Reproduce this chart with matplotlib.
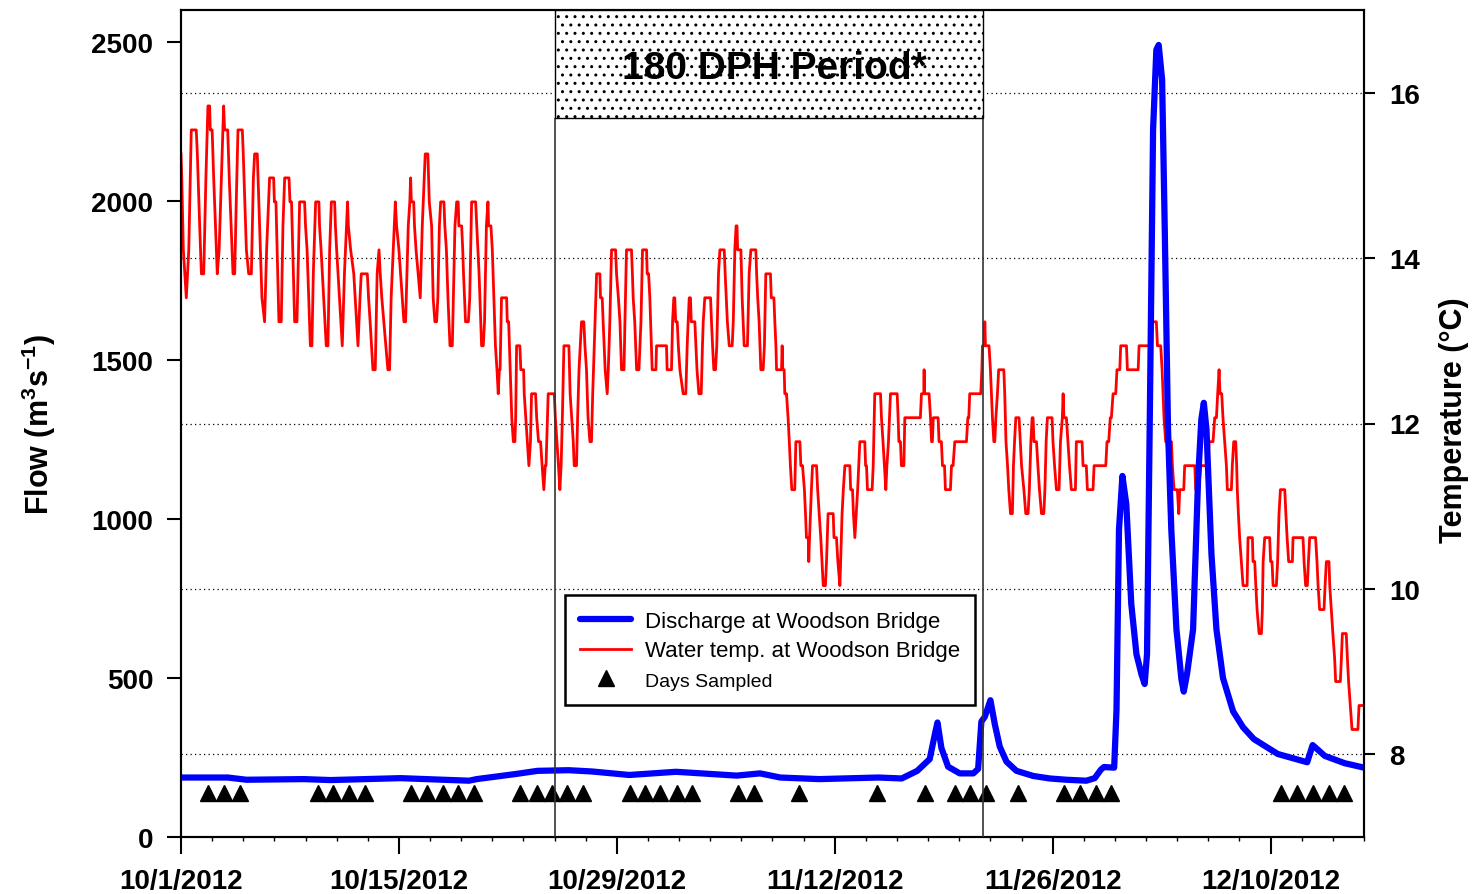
import numpy as np
import matplotlib.pyplot as plt
from matplotlib.patches import Rectangle
from matplotlib.lines import Line2D

plt.rcParams['font.family'] = 'Liberation Sans'
plt.rcParams['font.weight'] = 'bold'
plt.rcParams['axes.labelweight'] = 'bold'
plt.rcParams['mathtext.fontset'] = 'custom'
plt.rcParams['mathtext.rm'] = 'Liberation Sans:bold'
plt.rcParams['mathtext.it'] = 'Liberation Sans:bold'
plt.rcParams['mathtext.bf'] = 'Liberation Sans:bold'
plt.rcParams['hatch.linewidth'] = 1.0

# days since 10/1/2012, discharge (m3/s)
flow_pts = [
    (0.0, 187), (3.0, 187), (4.2, 180), (7.9, 182), (9.6, 179), (14.1, 185),
    (18.5, 177), (19.0, 182), (21.5, 198), (22.9, 208), (24.9, 210), (26.4, 206),
    (28.8, 195), (31.8, 205), (35.7, 193), (37.2, 200), (38.5, 187), (41.0, 182),
    (44.8, 187), (46.3, 184), (47.3, 208), (48.1, 245), (48.43, 323), (48.6, 360),
    (48.85, 280), (49.28, 221), (50.03, 200), (50.9, 200), (51.21, 214), (51.42, 363),
    (51.64, 378), (52.0, 430), (52.28, 355), (52.6, 284), (53.03, 237), (53.67, 208),
    (54.74, 192), (55.81, 184), (56.88, 180), (58.16, 177), (58.7, 185), (59.1, 212),
    (59.3, 220), (59.95, 218), (60.1, 400), (60.26, 967), (60.48, 1135), (60.73, 1046),
    (61.05, 732), (61.38, 575), (61.70, 512), (61.91, 481), (62.06, 575), (62.23, 1281),
    (62.45, 2224), (62.66, 2475), (62.81, 2490), (63.03, 2381), (63.20, 1910), (63.41, 1281),
    (63.62, 967), (63.95, 653), (64.27, 496), (64.42, 457), (64.63, 512), (65.02, 653),
    (65.34, 1124), (65.55, 1313), (65.71, 1365), (65.88, 1281), (66.20, 889), (66.52, 653),
    (66.94, 500), (67.59, 395), (68.23, 345), (68.92, 308), (70.46, 261), (72.35, 235),
    (72.70, 289), (73.48, 255), (74.76, 232), (75.92, 219), (76.0, 218),
]

# days since 10/1/2012, water temperature (deg C)
temp_pts = [
    (0.00, 15.26), (0.05, 14.97), (0.15, 14.10), (0.34, 13.52), (0.50, 14.10), (0.60, 14.97),
    (0.66, 15.55), (0.98, 15.55), (1.05, 15.26), (1.20, 14.39), (1.31, 13.81), (1.46, 13.81),
    (1.60, 14.97), (1.73, 15.84), (1.84, 15.84), (1.88, 15.55), (2.00, 15.55), (2.10, 14.97),
    (2.33, 13.81), (2.45, 14.10), (2.74, 15.84), (2.80, 15.55), (3.00, 15.55), (3.10, 14.97),
    (3.34, 13.81), (3.45, 13.81), (3.55, 14.68), (3.66, 15.55), (3.94, 15.55), (4.00, 15.26),
    (4.20, 14.10), (4.35, 13.81), (4.52, 13.81), (4.65, 14.97), (4.73, 15.26), (4.90, 15.26),
    (4.95, 14.97), (5.20, 13.52), (5.37, 13.23), (5.50, 14.10), (5.69, 14.97), (5.95, 14.97),
    (6.00, 14.68), (6.10, 14.68), (6.29, 13.23), (6.44, 13.23), (6.55, 14.39), (6.66, 14.97),
    (6.94, 14.97), (7.00, 14.68), (7.10, 14.68), (7.30, 13.23), (7.45, 13.23), (7.55, 14.10),
    (7.62, 14.68), (7.94, 14.68), (8.00, 14.39), (8.10, 14.10), (8.31, 12.94), (8.41, 12.94),
    (8.50, 13.81), (8.65, 14.68), (8.86, 14.68), (8.90, 14.39), (9.00, 14.10), (9.33, 12.94),
    (9.44, 12.94), (9.55, 14.10), (9.66, 14.68), (9.87, 14.68), (9.92, 14.39), (10.00, 14.10),
    (10.36, 12.94), (10.50, 13.81), (10.70, 14.68), (10.75, 14.39), (10.90, 14.10), (11.10, 13.81),
    (11.37, 12.94), (11.50, 13.52), (11.58, 13.81), (11.97, 13.81), (12.05, 13.52), (12.15, 13.23),
    (12.33, 12.65), (12.48, 12.65), (12.60, 13.81), (12.72, 14.10), (12.80, 13.81), (12.90, 13.52),
    (13.29, 12.65), (13.40, 12.65), (13.50, 13.52), (13.77, 14.68), (13.85, 14.39), (14.00, 14.10),
    (14.32, 13.23), (14.43, 13.23), (14.60, 14.39), (14.70, 14.68), (14.75, 14.97), (14.80, 14.68),
    (14.95, 14.68), (15.00, 14.39), (15.10, 14.10), (15.37, 13.52), (15.50, 14.39), (15.69, 15.26),
    (15.86, 15.26), (15.95, 14.68), (16.10, 14.39), (16.20, 13.52), (16.31, 13.23), (16.42, 13.23),
    (16.50, 13.52), (16.60, 14.39), (16.68, 14.68), (16.89, 14.68), (16.95, 14.39), (17.05, 14.10),
    (17.15, 13.52), (17.28, 12.94), (17.43, 12.94), (17.50, 13.52), (17.60, 14.39), (17.71, 14.68),
    (17.81, 14.68), (17.85, 14.39), (18.03, 14.39), (18.10, 14.10), (18.15, 13.81), (18.28, 13.23),
    (18.46, 13.23), (18.55, 13.52), (18.67, 14.68), (18.93, 14.68), (19.00, 14.39), (19.15, 13.81),
    (19.31, 12.94), (19.42, 12.94), (19.50, 13.23), (19.62, 14.39), (19.72, 14.68), (19.76, 14.39),
    (19.91, 14.39), (20.00, 14.10), (20.10, 13.52), (20.20, 12.94), (20.30, 12.65), (20.38, 12.36),
    (20.45, 12.65), (20.50, 12.65), (20.59, 13.52), (20.92, 13.52), (20.96, 13.23), (21.05, 13.23),
    (21.10, 12.94), (21.15, 12.65), (21.25, 12.07), (21.35, 11.78), (21.45, 11.78), (21.50, 12.07),
    (21.56, 12.94), (21.77, 12.94), (21.83, 12.65), (22.01, 12.65), (22.05, 12.36), (22.15, 12.07),
    (22.25, 11.78), (22.35, 11.49), (22.45, 11.78), (22.52, 12.36), (22.78, 12.36), (22.85, 12.07),
    (22.97, 11.78), (23.10, 11.78), (23.20, 11.49), (23.31, 11.20), (23.40, 11.49), (23.45, 11.49),
    (23.59, 12.36), (23.98, 12.36), (24.05, 12.07), (24.15, 11.78), (24.25, 11.49), (24.34, 11.20),
    (24.42, 11.49), (24.50, 12.07), (24.60, 12.94), (24.92, 12.94), (25.00, 12.36), (25.10, 12.07),
    (25.20, 11.78), (25.26, 11.49), (25.41, 11.49), (25.48, 12.07), (25.57, 12.65), (25.65, 12.94),
    (25.73, 13.23), (25.88, 13.23), (25.95, 12.94), (26.05, 12.65), (26.15, 12.07), (26.27, 11.78),
    (26.37, 11.78), (26.45, 12.36), (26.55, 12.94), (26.70, 13.81), (26.91, 13.81), (26.95, 13.52),
    (27.06, 13.52), (27.12, 13.23), (27.25, 12.65), (27.38, 12.36), (27.45, 12.65), (27.55, 13.23),
    (27.66, 14.10), (27.92, 14.10), (27.98, 13.81), (28.10, 13.52), (28.20, 13.23), (28.30, 12.65),
    (28.46, 12.65), (28.52, 13.23), (28.62, 14.10), (28.94, 14.10), (29.00, 13.81), (29.05, 13.52),
    (29.15, 13.23), (29.27, 12.65), (29.42, 12.65), (29.55, 13.23), (29.65, 14.10), (29.91, 14.10),
    (29.95, 13.81), (30.04, 13.81), (30.12, 13.52), (30.27, 12.65), (30.51, 12.65), (30.55, 12.94),
    (31.19, 12.94), (31.23, 12.65), (31.51, 12.65), (31.58, 13.23), (31.66, 13.52), (31.72, 13.52),
    (31.78, 13.23), (31.88, 13.23), (31.95, 12.94), (32.05, 12.65), (32.26, 12.36), (32.43, 12.36),
    (32.52, 12.94), (32.58, 13.23), (32.65, 13.52), (32.73, 13.52), (32.78, 13.23), (33.01, 13.23),
    (33.08, 12.94), (33.15, 12.65), (33.27, 12.36), (33.42, 12.36), (33.50, 12.94), (33.55, 13.23),
    (33.65, 13.52), (34.02, 13.52), (34.08, 13.23), (34.15, 12.94), (34.23, 12.65), (34.34, 12.65),
    (34.42, 12.94), (34.53, 13.81), (34.62, 14.10), (34.90, 14.10), (34.96, 13.81), (35.10, 13.23),
    (35.22, 12.94), (35.41, 12.94), (35.48, 13.23), (35.58, 14.10), (35.66, 14.39), (35.72, 14.39),
    (35.76, 14.10), (35.97, 14.10), (36.05, 13.52), (36.18, 12.94), (36.39, 12.94), (36.50, 13.81),
    (36.61, 14.10), (36.93, 14.10), (36.98, 13.81), (37.05, 13.52), (37.14, 13.23), (37.25, 12.65),
    (37.40, 12.65), (37.48, 12.94), (37.57, 13.81), (37.87, 13.81), (37.92, 13.52), (38.09, 13.52),
    (38.15, 13.23), (38.22, 12.94), (38.26, 12.65), (38.58, 12.65), (38.62, 12.94), (38.66, 12.65),
    (38.75, 12.65), (38.79, 12.36), (38.90, 12.36), (39.00, 12.07), (39.08, 11.78), (39.15, 11.49),
    (39.24, 11.20), (39.43, 11.20), (39.50, 11.78), (39.76, 11.78), (39.82, 11.49), (39.93, 11.49),
    (40.05, 11.20), (40.12, 10.91), (40.18, 10.62), (40.30, 10.62), (40.33, 10.33), (40.38, 10.62),
    (40.50, 11.20), (40.57, 11.49), (40.83, 11.49), (40.90, 11.20), (41.00, 10.91), (41.10, 10.62),
    (41.18, 10.33), (41.26, 10.04), (41.40, 10.04), (41.47, 10.33), (41.57, 10.91), (41.90, 10.91),
    (41.95, 10.62), (42.11, 10.62), (42.20, 10.33), (42.33, 10.04), (42.42, 10.62), (42.47, 10.91),
    (42.55, 11.20), (42.65, 11.49), (42.97, 11.49), (43.02, 11.20), (43.14, 11.20), (43.20, 10.91),
    (43.29, 10.62), (43.38, 10.91), (43.47, 11.20), (43.61, 11.78), (43.93, 11.78), (43.98, 11.49),
    (44.04, 11.49), (44.10, 11.20), (44.40, 11.20), (44.47, 11.49), (44.57, 12.36), (44.94, 12.36),
    (45.00, 12.07), (45.10, 11.78), (45.28, 11.20), (45.35, 11.49), (45.45, 11.78), (45.58, 12.36),
    (46.01, 12.36), (46.07, 12.07), (46.12, 11.78), (46.22, 11.78), (46.28, 11.49), (46.44, 11.49),
    (46.50, 12.07), (47.50, 12.07), (47.57, 12.36), (47.72, 12.36), (47.74, 12.65), (47.76, 12.36),
    (48.06, 12.36), (48.15, 12.07), (48.22, 11.78), (48.27, 11.78), (48.33, 12.07), (48.64, 12.07),
    (48.70, 11.78), (48.85, 11.78), (48.92, 11.49), (49.05, 11.49), (49.11, 11.20), (49.43, 11.20),
    (49.50, 11.49), (49.60, 11.49), (49.71, 11.78), (50.46, 11.78), (50.55, 12.07), (50.61, 12.07),
    (50.67, 12.36), (51.38, 12.36), (51.45, 12.65), (51.49, 12.94), (51.60, 12.94), (51.64, 13.23),
    (51.68, 12.94), (51.91, 12.94), (52.00, 12.65), (52.13, 12.07), (52.22, 11.78), (52.28, 11.78),
    (52.35, 12.07), (52.45, 12.36), (52.53, 12.65), (52.86, 12.65), (52.92, 12.36), (53.00, 11.78),
    (53.10, 11.49), (53.18, 11.20), (53.29, 10.91), (53.41, 10.91), (53.48, 11.49), (53.55, 11.78),
    (53.63, 12.07), (53.84, 12.07), (53.92, 11.78), (54.00, 11.49), (54.15, 11.20), (54.27, 10.91),
    (54.42, 10.91), (54.50, 11.20), (54.60, 11.78), (54.68, 12.07), (54.74, 12.07), (54.80, 11.78),
    (54.96, 11.78), (55.05, 11.49), (55.15, 11.20), (55.28, 10.91), (55.43, 10.91), (55.50, 11.20),
    (55.58, 11.78), (55.66, 12.07), (55.96, 12.07), (56.02, 11.78), (56.12, 11.49), (56.24, 11.20),
    (56.41, 11.20), (56.50, 11.78), (56.62, 12.07), (56.67, 12.36), (56.72, 12.07), (56.88, 12.07),
    (56.98, 11.78), (57.08, 11.49), (57.20, 11.20), (57.46, 11.20), (57.52, 11.78), (57.89, 11.78),
    (57.95, 11.49), (58.16, 11.49), (58.23, 11.20), (58.59, 11.20), (58.66, 11.49), (59.41, 11.49),
    (59.49, 11.78), (59.60, 11.78), (59.70, 12.07), (59.77, 12.07), (59.88, 12.36), (60.05, 12.36),
    (60.13, 12.65), (60.31, 12.65), (60.37, 12.94), (60.74, 12.94), (60.80, 12.65), (61.49, 12.65),
    (61.55, 12.94), (62.28, 12.94), (62.34, 13.23), (62.66, 13.23), (62.73, 12.94), (62.94, 12.94),
    (63.03, 12.65), (63.09, 12.36), (63.15, 12.07), (63.26, 11.78), (63.35, 11.78), (63.41, 11.49),
    (63.48, 11.78), (63.63, 11.78), (63.69, 11.49), (63.80, 11.20), (64.01, 11.20), (64.10, 10.91),
    (64.16, 11.20), (64.42, 11.20), (64.48, 11.49), (65.13, 11.49), (65.19, 11.20), (65.40, 11.20),
    (65.49, 11.49), (65.98, 11.49), (66.05, 11.78), (66.30, 11.78), (66.41, 12.07), (66.52, 12.07),
    (66.60, 12.36), (66.69, 12.65), (66.75, 12.36), (66.86, 12.36), (66.94, 12.07), (67.05, 11.78),
    (67.16, 11.49), (67.22, 11.20), (67.48, 11.20), (67.54, 11.49), (67.63, 11.78), (67.76, 11.78),
    (67.82, 11.49), (67.86, 11.20), (67.93, 10.91), (68.01, 10.62), (68.12, 10.33), (68.23, 10.04),
    (68.49, 10.04), (68.55, 10.62), (68.83, 10.62), (68.87, 10.33), (68.98, 10.33), (69.05, 10.04),
    (69.13, 9.75), (69.26, 9.46), (69.41, 9.46), (69.47, 9.75), (69.52, 10.33), (69.62, 10.62),
    (69.94, 10.62), (70.00, 10.33), (70.09, 10.33), (70.16, 10.04), (70.37, 10.04), (70.45, 10.33),
    (70.54, 10.91), (70.63, 11.20), (70.91, 11.20), (70.98, 10.91), (71.06, 10.62), (71.16, 10.33),
    (71.40, 10.33), (71.44, 10.62), (72.08, 10.62), (72.15, 10.33), (72.25, 10.04), (72.36, 10.04),
    (72.43, 10.33), (72.51, 10.62), (72.89, 10.62), (72.98, 10.33), (73.05, 10.04), (73.15, 9.75),
    (73.43, 9.75), (73.50, 10.04), (73.58, 10.33), (73.75, 10.33), (73.80, 10.04), (73.90, 9.75),
    (74.00, 9.46), (74.11, 9.17), (74.18, 8.88), (74.48, 8.88), (74.55, 9.17), (74.61, 9.46),
    (74.86, 9.46), (74.93, 9.17), (75.01, 8.88), (75.12, 8.59), (75.23, 8.30), (75.61, 8.30),
    (75.68, 8.59), (76.00, 8.59),
]

# days sampled (days since 10/1/2012)
sample_days = [1.75, 2.77, 3.78, 8.77, 9.75, 10.79, 11.79, 14.80, 15.83, 16.84, 17.82, 18.81,
               21.81, 22.85, 23.83, 24.81, 25.82, 28.83, 29.81, 30.80, 31.84, 32.82,
               35.80, 36.84, 39.72, 44.73, 47.77, 49.71, 50.72, 51.74, 53.74,
               56.73, 57.75, 58.77, 59.73, 70.69, 71.71, 72.72, 73.74, 74.71]

period_start, period_end = 24.0, 51.5   # 180 DPH period (days since 10/1)

xtick_days = [0, 14, 28, 42, 56, 70]
xtick_labels = ['10/1/2012', '10/15/2012', '10/29/2012', '11/12/2012', '11/26/2012', '12/10/2012']

flow_t, flow_v = zip(*flow_pts)
temp_t, temp_v = zip(*temp_pts)

fig = plt.figure(figsize=(14.74, 8.95), dpi=100)
ax = fig.add_axes([181 / 1474, 57 / 895, 1183 / 1474, 827 / 895])
ax2 = ax.twinx()
ax.set_zorder(ax2.get_zorder() + 1)
ax.patch.set_visible(False)
ax2.set_facecolor('#c0c0c0')

ax2.yaxis.grid(True, color='black', linestyle=(0, (1, 2.6)), linewidth=0.9)
ax2.plot(temp_t, temp_v, color='red', lw=2.0)

ax.plot(flow_t, flow_v, color='blue', lw=4.5, solid_joinstyle='round', solid_capstyle='round')
ax.plot(sample_days, [138] * len(sample_days), '^', color='black', ms=12, ls='none')

box_bottom = 2262
ax.vlines([period_start, period_end], 0, box_bottom, color='#333333', lw=1.2, zorder=3)
ax.add_patch(Rectangle((period_start, box_bottom), period_end - period_start, 2600 - box_bottom,
                       facecolor='white', edgecolor='black', hatch='..', lw=1.0, zorder=3))
ax.text((period_start + period_end) / 2 + 0.4, 2418, '180 DPH Period*', ha='center', va='center',
        fontsize=28, fontweight='bold', zorder=4)

ax.set_xlim(0, 76)
ax.set_ylim(0, 2600)
ax2.set_ylim(7, 17)

ax.set_xticks(xtick_days)
ax.set_xticklabels(xtick_labels)
ax.set_xticks(np.arange(0, 77, 2), minor=True)
ax.set_yticks(np.arange(0, 2501, 500))
ax2.set_yticks(np.arange(8, 17, 2))

ax.tick_params(axis='x', which='major', length=12, width=1.5, pad=10, labelsize=20)
ax.tick_params(axis='x', which='minor', length=3, width=1.0)
ax.tick_params(axis='y', length=10, width=1.5, pad=10, labelsize=20)
ax2.tick_params(axis='y', length=8, width=1.5, pad=10, labelsize=20)

for a in (ax, ax2):
    for s in a.spines.values():
        s.set_linewidth(1.5)

ax.set_ylabel('Flow (m$^{3}$s$^{-1}$)', fontsize=22)
ax.yaxis.set_label_coords(-0.104, 0.5)
ax2.set_ylabel('Temperature (\u00b0C)', fontsize=22, rotation=90)
ax2.yaxis.set_label_coords(1.063, 0.505)

handles = [Line2D([], [], color='blue', lw=4.5, solid_capstyle='round'),
           Line2D([], [], color='red', lw=2.0),
           Line2D([], [], marker='^', color='black', ms=12, ls='none')]
labels = ['Discharge at Woodson Bridge', 'Water temp. at Woodson Bridge', 'Days Sampled']
leg = ax.legend(handles, labels, loc='upper left', bbox_to_anchor=(0.315, 0.306),
                frameon=True, fancybox=False, edgecolor='black', framealpha=1,
                borderpad=0.7, handlelength=2.3, handletextpad=0.6, labelspacing=0.4,
                prop={'weight': 'normal', 'size': 16})
leg.get_frame().set_linewidth(1.8)
leg.get_texts()[2].set_fontsize(14)
leg.set_zorder(5)

fig.savefig('out.png', dpi=100)
